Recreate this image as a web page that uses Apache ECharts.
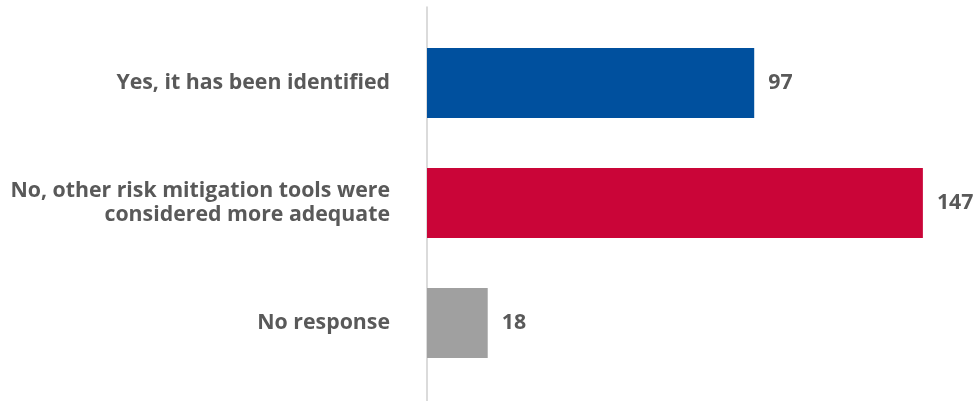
<!DOCTYPE html>
<html>
<head>
<meta charset="utf-8">
<script src="https://cdn.jsdelivr.net/npm/echarts@6/dist/echarts.min.js"></script>
<style>
  html, body { margin: 0; padding: 0; background: #fff; }
  #chart { width: 975px; height: 401px; }
</style>
</head>
<body>
<div id="chart"></div>
<script>
const categories = [
  'Yes, it has been identified',
  'No, other risk mitigation tools were\nconsidered more adequate',
  'No response'
];
const values = [97, 147, 18];
const barColors = ['#00509E', '#CA0538', '#A0A0A0'];

const textColor = '#595959';
const fontFamily = '"Open Sans", "Noto Sans", sans-serif';

const chart = echarts.init(document.getElementById('chart'), null, { renderer: 'canvas' });

chart.setOption({
  animation: false,
  grid: [
    // bars
    { left: 427, width: 506, top: 23, bottom: 18, containLabel: false },
    // full-height vertical baseline
    { left: 427, width: 506, top: 7, bottom: 0, containLabel: false }
  ],
  xAxis: [
    { gridIndex: 0, type: 'value', min: 0, max: 150, show: false },
    { gridIndex: 1, type: 'value', min: 0, max: 150, show: false }
  ],
  yAxis: [
    {
      gridIndex: 0,
      type: 'category',
      data: categories,
      inverse: true,
      axisLine: { show: false },
      axisTick: { show: false },
      splitLine: { show: false },
      axisLabel: {
        margin: 37,
        color: textColor,
        fontFamily: fontFamily,
        fontWeight: 'bold',
        fontSize: 21.3,
        lineHeight: 24,
        align: 'right'
      }
    },
    {
      gridIndex: 1,
      type: 'category',
      data: [''],
      axisLine: { show: true, lineStyle: { color: '#CFCFCF', width: 1.5 } },
      axisTick: { show: false },
      axisLabel: { show: false },
      splitLine: { show: false }
    }
  ],
  series: [
    {
      type: 'bar',
      xAxisIndex: 0,
      yAxisIndex: 0,
      barWidth: 70,
      data: values.map((v, i) => ({ value: v, itemStyle: { color: barColors[i] } })),
      label: {
        show: true,
        position: 'right',
        distance: 14,
        color: textColor,
        fontFamily: fontFamily,
        fontWeight: 'bold',
        fontSize: 21.3
      }
    }
  ]
});
</script>
</body>
</html>
